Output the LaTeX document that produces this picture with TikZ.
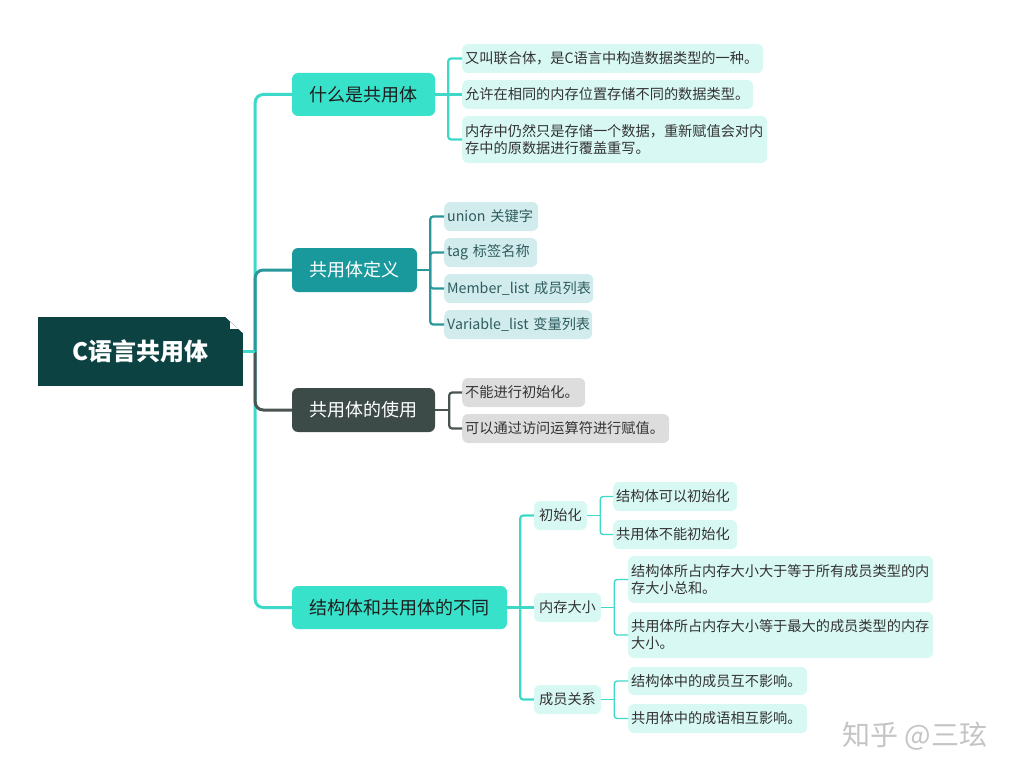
\documentclass[tikz,border=0pt]{standalone}
\usepackage{fontspec}
\setmainfont{Noto Sans CJK SC}
\definecolor{rootc}{HTML}{0D4242}
\definecolor{turq}{HTML}{38E1C9}
\definecolor{lineturq}{HTML}{3DD8C7}
\definecolor{tealc}{HTML}{1A999C}
\definecolor{linetealc}{HTML}{2A979A}
\definecolor{grayc}{HTML}{3D4B48}
\definecolor{linegrayc}{HTML}{4A5553}
\definecolor{lfturq}{HTML}{D8F8F3}
\definecolor{lfteal}{HTML}{D2ECED}
\definecolor{lfgray}{HTML}{DCDDDC}
\definecolor{txtdark}{HTML}{1E1E1E}
\definecolor{txtleaf}{HTML}{333333}
\definecolor{txtteal}{HTML}{2E5C5E}
\definecolor{wmc}{HTML}{C4C4C4}
\begin{document}
\begin{tikzpicture}[x=1pt,y=-1pt,
  rootbox/.style={fill=rootc, minimum width=205pt, minimum height=69pt, inner sep=0pt,
    text=white, font=\fontsize{24}{28}\selectfont\bfseries},
  lone/.style={rounded corners=6pt, inner sep=0pt, font=\fontsize{18}{22}\selectfont},
  leaf/.style={rounded corners=6pt, anchor=west, inner xsep=3pt, inner ysep=0pt, align=left,
    font=\fontsize{14.2}{17}\selectfont, text=txtleaf},
  subn/.style={rounded corners=6pt, inner sep=0pt, fill=lfturq, text=txtleaf,
    font=\fontsize{14.2}{17}\selectfont},
  trunk/.style={line width=3pt, rounded corners=8pt},
  brone/.style={line width=2.2pt, rounded corners=3pt},
  brtwo/.style={line width=1.4pt, rounded corners=3pt, lineturq},
  wm/.style={text=wmc, font=\fontsize{28}{32}\selectfont}
]
\useasboundingbox (0,0) rectangle (1021,776);

% root
\node[rootbox] (root) at (140.5,351.5) {C语言共用体};
\fill[white] ([xshift=-18pt]root.north east) -- ([xshift=0.5pt]root.north east) -- ([shift={(0.5,17)}]root.north east) -- cycle;
\fill[white] ([shift={(-13,5)}]root.north east) -- ++(0,7) -- ++(8,0) -- cycle;

% level 1
\node[lone, fill=turq, text=txtdark, minimum width=143pt, minimum height=43pt] (n1) at (363.5,94.5) {什么是共用体};
\node[lone, fill=tealc, text=white, minimum width=125pt, minimum height=44pt] (n2) at (354.5,270) {共用体定义};
\node[lone, fill=grayc, text=white, minimum width=143pt, minimum height=44pt] (n3) at (363.5,410) {共用体的使用};
\node[lone, fill=turq, text=txtdark, minimum width=215pt, minimum height=43pt] (n4) at (399.5,607.5) {结构体和共用体的不同};

% group 1 leaves
\node[leaf, fill=lfturq, text width=295pt, minimum height=29pt] (a1) at (462,58.5) {又叫联合体，是C语言中构造数据类型的一种。};
\node[leaf, fill=lfturq, text width=285pt, minimum height=29pt] (a2) at (462,94.5) {允许在相同的内存位置存储不同的数据类型。};
\node[leaf, fill=lfturq, text width=299pt, minimum height=47pt] (a3) at (462,139.5) {内存中仍然只是存储一个数据，重新赋值会对内\\存中的原数据进行覆盖重写。};

% group 2 leaves
\node[leaf, fill=lfteal, text=txtteal, text width=88pt, minimum height=29pt] (b1) at (444,216.5) {union~关键字};
\node[leaf, fill=lfteal, text=txtteal, text width=87pt, minimum height=29pt] (b2) at (444,252.5) {tag~标签名称};
\node[leaf, fill=lfteal, text=txtteal, text width=143pt, minimum height=29pt] (b3) at (444,288.5) {Member\_list~成员列表};
\node[leaf, fill=lfteal, text=txtteal, text width=142pt, minimum height=29pt] (b4) at (444,324.5) {Variable\_list~变量列表};

% group 3 leaves
\node[leaf, fill=lfgray, text width=117pt, minimum height=29pt] (c1) at (462,392.5) {不能进行初始化。};
\node[leaf, fill=lfgray, text width=201pt, minimum height=29pt] (c2) at (462,428.5) {可以通过访问运算符进行赋值。};

% group 4
\node[subn, minimum width=53pt, minimum height=29pt] (s1) at (560.5,515.5) {初始化};
\node[subn, minimum width=67pt, minimum height=29pt] (s2) at (567.5,607.5) {内存大小};
\node[subn, minimum width=67pt, minimum height=29pt] (s3) at (567.5,699.5) {成员关系};

\node[leaf, fill=lfturq, text width=118pt, minimum height=29pt] (d1) at (613,496.5) {结构体可以初始化};
\node[leaf, fill=lfturq, text width=118pt, minimum height=29pt] (d2) at (613,534.5) {共用体不能初始化};
\node[leaf, fill=lfturq, text width=299pt, minimum height=47pt] (e1) at (628,579.5) {结构体所占内存大小大于等于所有成员类型的内\\存大小总和。};
\node[leaf, fill=lfturq, text width=299pt, minimum height=46pt] (e2) at (628,635) {共用体所占内存大小等于最大的成员类型的内存\\大小。};
\node[leaf, fill=lfturq, text width=173pt, minimum height=28pt] (f1) at (628,681) {结构体中的成员互不影响。};
\node[leaf, fill=lfturq, text width=173pt, minimum height=29pt] (f2) at (628,718.5) {共用体中的成语相互影响。};

% trunk
\coordinate (hub) at ([xshift=12pt]root.east);
\draw[trunk, lineturq] (hub) |- (n1.west);
\draw[trunk, lineturq] (hub) |- (n4.west);
\draw[trunk, linetealc] (hub) |- (n2.west);
\draw[trunk, linegrayc] (hub) |- (n3.west);
\draw[line width=3pt, lineturq] (root.east) -- (hub);

% group 1 bracket
\coordinate (k1) at ([xshift=13pt]n1.east);
\draw[brone, lineturq] (n1.east) -- (k1);
\draw[brone, lineturq] (k1) |- (a1.west);
\draw[brone, lineturq] (k1) -- (a2.west);
\draw[brone, lineturq] (k1) |- (a3.west);

% group 2 bracket
\coordinate (k2) at ([xshift=13pt]n2.east);
\draw[brone, linetealc] (n2.east) -- (k2);
\draw[brone, linetealc] (k2) |- (b1.west);
\draw[brone, linetealc] (k2) |- (b2.west);
\draw[brone, linetealc] (k2) |- (b3.west);
\draw[brone, linetealc] (k2) |- (b4.west);

% group 3 bracket
\coordinate (k3) at ([xshift=14pt]n3.east);
\draw[brone, linegrayc] (n3.east) -- (k3);
\draw[brone, linegrayc] (k3) |- (c1.west);
\draw[brone, linegrayc] (k3) |- (c2.west);

% group 4 bracket
\coordinate (k4) at ([xshift=13pt]n4.east);
\draw[brone, lineturq] (n4.east) -- (k4);
\draw[brone, lineturq] (k4) |- (s1.west);
\draw[brone, lineturq] (k4) -- (s2.west);
\draw[brone, lineturq] (k4) |- (s3.west);

\coordinate (k5) at ([xshift=13pt]s1.east);
\draw[brtwo] (s1.east) -- (k5);
\draw[brtwo] (k5) |- (d1.west);
\draw[brtwo] (k5) |- (d2.west);

\coordinate (k6) at ([xshift=13pt]s2.east);
\draw[brtwo] (s2.east) -- (k6);
\draw[brtwo] (k6) |- (e1.west);
\draw[brtwo] (k6) |- (e2.west);

\coordinate (k7) at ([xshift=13pt]s3.east);
\draw[brtwo] (s3.east) -- (k7);
\draw[brtwo] (k7) |- (f1.west);
\draw[brtwo] (k7) |- (f2.west);

% watermark
\node[wm] (wm) at (915,736) {知乎 @三玹};
\end{tikzpicture}
\end{document}
